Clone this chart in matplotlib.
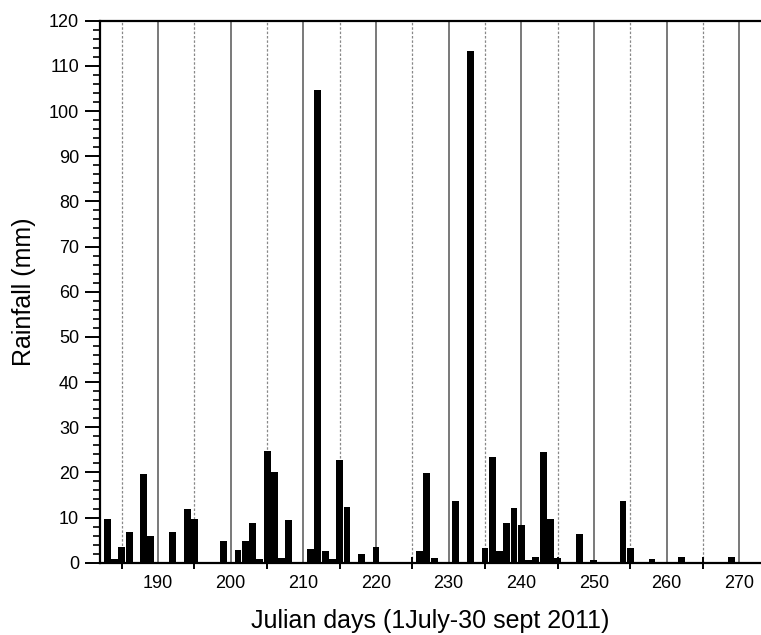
import matplotlib
matplotlib.use("Agg")
import matplotlib.pyplot as plt

plt.rcParams["font.family"] = ["Liberation Sans", "DejaVu Sans"]

# daily rainfall, julian day -> mm
days = [183, 184, 185, 186, 188, 189, 192, 194, 195, 199,
        201, 202, 203, 204, 205, 206, 207, 208, 211, 212,
        213, 214, 215, 216, 218, 220, 226, 227, 228, 231,
        233, 235, 236, 237, 238, 239, 240, 241, 242, 243,
        244, 245, 248, 250, 254, 255, 258, 262, 269]
rain = [9.7, 0.8, 3.5, 6.9, 19.6, 6.0, 6.9, 11.9, 9.7, 4.7,
        2.8, 4.7, 8.9, 0.8, 24.8, 20.0, 1.0, 9.4, 3.0, 104.6,
        2.5, 0.8, 22.7, 12.4, 1.9, 3.5, 2.7, 19.8, 1.1, 13.6,
        113.3, 3.25, 23.5, 2.7, 8.9, 12.2, 8.3, 0.6, 1.3, 24.4,
        9.7, 1.0, 6.4, 0.5, 13.6, 3.3, 0.8, 1.3, 1.3]

label_days = list(range(190, 271, 10))
mid_days = list(range(185, 271, 10))

W, H = 761, 635
fig = plt.figure(figsize=(W / 100, H / 100), dpi=100)
ax = fig.add_axes([100 / W, 1 - 562.7 / H, 661 / W, 542 / H])

for d in label_days:
    ax.axvline(d, color="#555555", lw=1.1, zorder=1)
for d in mid_days:
    ax.axvline(d, color="#888888", lw=0.9, ls=(0, (2, 1.5)), zorder=1)

ax.bar(days, rain, width=0.95, color="black", zorder=2)

ax.set_xlim(182, 273)
ax.set_ylim(0, 120)

ax.set_xticks(mid_days)
ax.set_xticklabels([])
ax.set_xticks(label_days, minor=True)
ax.set_xticklabels([str(d) for d in label_days], minor=True)
ax.tick_params(axis="x", which="major", direction="inout", length=9, width=1.4)
ax.tick_params(axis="x", which="minor", length=0, pad=9, labelsize=13)

ax.set_yticks(range(0, 121, 10))
ax.set_yticks(range(0, 121, 2), minor=True)
ax.tick_params(axis="y", which="major", direction="out", length=11, width=1.4,
               pad=4, labelsize=13)
ax.tick_params(axis="y", which="minor", direction="out", length=5, width=1.2)

for s in ["left", "top", "bottom"]:
    ax.spines[s].set_linewidth(1.6)
ax.spines["right"].set_visible(False)

ax.set_ylabel("Rainfall (mm)", fontsize=18, labelpad=9)
ax.set_xlabel("Julian days (1July-30 sept 2011)", fontsize=18, labelpad=12)

fig.savefig("out.png", dpi=100)
